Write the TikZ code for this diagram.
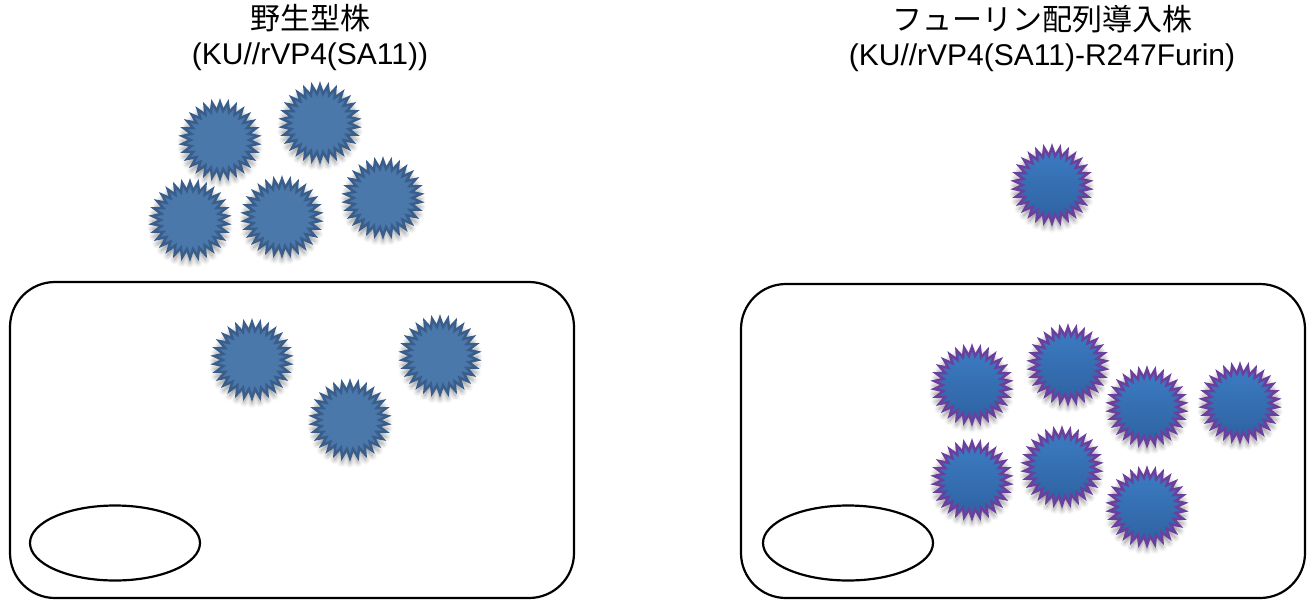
\documentclass[tikz,border=0pt]{standalone}
\usepackage{fontspec}
\setmainfont{Liberation Sans}
\newfontfamily\cjk{Noto Sans CJK JP}
\usetikzlibrary{shapes.geometric,shadows.blur}
\definecolor{wtfill}{HTML}{4A78AA}
\definecolor{wtedge}{HTML}{3A5E8C}
\definecolor{furtop}{HTML}{3C7CC2}
\definecolor{furbot}{HTML}{2E62A2}
\definecolor{furedge}{HTML}{6B3F9E}
\tikzset{
  virus/.style={star, star points=30, star point ratio=1.3, minimum size=76pt,
    inner sep=0pt, line width=2.5pt,
    blur shadow={shadow xshift=0pt, shadow yshift=-5pt, shadow blur radius=5pt,
      shadow opacity=45}},
  wildvirus/.style={virus, fill=wtfill, draw=wtedge},
  furinvirus/.style={virus, top color=furtop, bottom color=furbot, draw=furedge},
  cell/.style={draw=black, line width=2.2pt, rounded corners=45pt},
  nucleus/.style={draw=black, line width=2.2pt, ellipse, minimum width=170pt,
    minimum height=75pt, inner sep=0pt},
  title/.style={align=center, font=\fontsize{30}{35}\selectfont, inner sep=0pt}
}
\begin{document}
\begin{tikzpicture}[x=1pt,y=-1pt]
  \useasboundingbox (0,0) rectangle (1312,605);

  % strain labels
  \node[title] (tWT) at (310,38) {{\cjk 野生型株}\\(KU//rVP4(SA11))};
  \node[title] (tFur) at (1042,38) {{\cjk フューリン配列導入株}\\(KU//rVP4(SA11)-R247Furin)};

  % cells and nuclei
  \draw[cell] (10,282) rectangle (574,598);
  \draw[cell] (741,284) rectangle (1305,598);
  \node[nucleus] (nucWT) at (115,543) {};
  \node[nucleus] (nucFur) at (848,543) {};

  % wild-type particles outside the cell
  \node[wildvirus] (w1) at (220,140) {};
  \node[wildvirus] (w2) at (320,123) {};
  \node[wildvirus] (w3) at (190,220) {};
  \node[wildvirus] (w4) at (282,217) {};
  \node[wildvirus] (w5) at (383,198) {};
  % wild-type particles inside the cell
  \node[wildvirus] (w6) at (252,360) {};
  \node[wildvirus] (w7) at (350,420) {};
  \node[wildvirus] (w8) at (440,356) {};

  % furin-site particles
  \node[furinvirus] (f0) at (1052,185) {};
  \node[furinvirus] (f1) at (972,385) {};
  \node[furinvirus] (f2) at (1068,365) {};
  \node[furinvirus] (f3) at (1147,407) {};
  \node[furinvirus] (f4) at (1240,403) {};
  \node[furinvirus] (f5) at (972,480) {};
  \node[furinvirus] (f6) at (1062,467) {};
  \node[furinvirus] (f7) at (1147,507) {};
\end{tikzpicture}
\end{document}
